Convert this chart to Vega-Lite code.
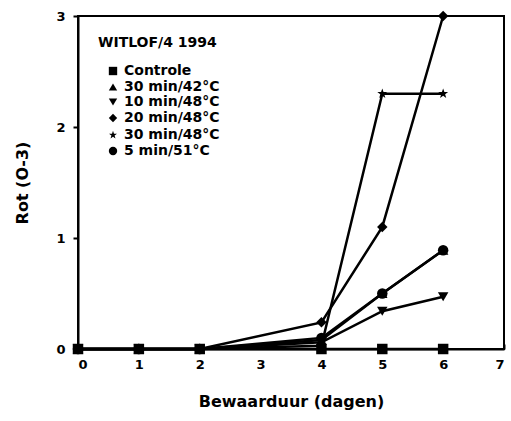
{
  "$schema": "https://vega.github.io/schema/vega-lite/v6.json",
  "width": 426,
  "height": 333,
  "autosize": {"type": "none"},
  "padding": {"left": 78, "top": 16, "right": 7, "bottom": 72},
  "config": {
    "font": "DejaVu Sans",
    "view": {"stroke": "black", "strokeWidth": 2},
    "axis": {"grid": false, "domainColor": "black", "domainWidth": 2, "tickColor": "black", "tickWidth": 2, "labelFont": "DejaVu Sans", "labelFontWeight": "bold", "labelFontSize": 13, "labelColor": "black", "titleFont": "DejaVu Sans", "titleFontWeight": "bold", "titleFontSize": 16, "titleColor": "black"}
  },
  "data": {"values": [
    {"serie": "Controle", "dag": 0, "rot": 0},
    {"serie": "Controle", "dag": 1, "rot": 0},
    {"serie": "Controle", "dag": 2, "rot": 0},
    {"serie": "Controle", "dag": 4, "rot": 0},
    {"serie": "Controle", "dag": 5, "rot": 0},
    {"serie": "Controle", "dag": 6, "rot": 0},
    {"serie": "30 min/42°C", "dag": 0, "rot": 0},
    {"serie": "30 min/42°C", "dag": 1, "rot": 0},
    {"serie": "30 min/42°C", "dag": 2, "rot": 0},
    {"serie": "30 min/42°C", "dag": 4, "rot": 0.08},
    {"serie": "30 min/42°C", "dag": 5, "rot": 0.5},
    {"serie": "30 min/42°C", "dag": 6, "rot": 0.89},
    {"serie": "10 min/48°C", "dag": 0, "rot": 0},
    {"serie": "10 min/48°C", "dag": 1, "rot": 0},
    {"serie": "10 min/48°C", "dag": 2, "rot": 0},
    {"serie": "10 min/48°C", "dag": 4, "rot": 0.06},
    {"serie": "10 min/48°C", "dag": 5, "rot": 0.34},
    {"serie": "10 min/48°C", "dag": 6, "rot": 0.47},
    {"serie": "20 min/48°C", "dag": 0, "rot": 0},
    {"serie": "20 min/48°C", "dag": 1, "rot": 0},
    {"serie": "20 min/48°C", "dag": 2, "rot": 0},
    {"serie": "20 min/48°C", "dag": 4, "rot": 0.24},
    {"serie": "20 min/48°C", "dag": 5, "rot": 1.1},
    {"serie": "20 min/48°C", "dag": 6, "rot": 3.0},
    {"serie": "30 min/48°C", "dag": 0, "rot": 0},
    {"serie": "30 min/48°C", "dag": 1, "rot": 0},
    {"serie": "30 min/48°C", "dag": 2, "rot": 0},
    {"serie": "30 min/48°C", "dag": 4, "rot": 0.03},
    {"serie": "30 min/48°C", "dag": 5, "rot": 2.3},
    {"serie": "30 min/48°C", "dag": 6, "rot": 2.3},
    {"serie": "5 min/51°C", "dag": 0, "rot": 0},
    {"serie": "5 min/51°C", "dag": 1, "rot": 0},
    {"serie": "5 min/51°C", "dag": 2, "rot": 0},
    {"serie": "5 min/51°C", "dag": 4, "rot": 0.1},
    {"serie": "5 min/51°C", "dag": 5, "rot": 0.5},
    {"serie": "5 min/51°C", "dag": 6, "rot": 0.89}
  ]},
  "encoding": {
    "x": {"field": "dag", "type": "quantitative", "scale": {"domain": [0, 7], "nice": false}, "axis": {"values": [0,1,2,3,4,5,6,7], "title": "Bewaarduur (dagen)", "tickSize": -5, "labelPadding": 14, "titlePadding": 22}},
    "y": {"field": "rot", "type": "quantitative", "scale": {"domain": [0, 3], "nice": false}, "axis": {"values": [0,1,2,3], "title": "Rot (O-3)", "tickSize": 5, "labelPadding": 8, "titlePadding": 25}}
  },
  "layer": [
    {
      "mark": {"type": "line", "color": "black", "strokeWidth": 2.5},
      "encoding": {"detail": {"field": "serie"}}
    },
    {
      "mark": {"type": "point", "filled": true, "color": "black", "opacity": 1, "size": 110},
      "encoding": {
        "shape": {
          "field": "serie", "type": "nominal",
          "scale": {
            "domain": ["Controle", "30 min/42°C", "10 min/48°C", "20 min/48°C", "30 min/48°C", "5 min/51°C"],
            "range": ["square", "triangle-up", "triangle-down", "diamond", "M0,-1L0.235,-0.324L0.951,-0.309L0.38,0.124L0.588,0.809L0,0.4L-0.588,0.809L-0.38,0.124L-0.951,-0.309L-0.235,-0.324Z", "circle"]
          },
          "legend": {
            "title": "WITLOF/4 1994",
            "orient": "top-left",
            "offset": 16,
            "padding": 4,
            "titleFont": "DejaVu Sans",
            "titleFontWeight": "bold",
            "titleFontSize": 14,
            "titleColor": "black",
            "titlePadding": 14,
            "labelFont": "DejaVu Sans",
            "labelFontWeight": "bold",
            "labelFontSize": 14,
            "labelColor": "black",
            "symbolFillColor": "black",
            "symbolStrokeColor": "black",
            "symbolSize": 70,
            "rowPadding": 1,
            "symbolOffset": 8
          }
        }
      }
    }
  ]
}
